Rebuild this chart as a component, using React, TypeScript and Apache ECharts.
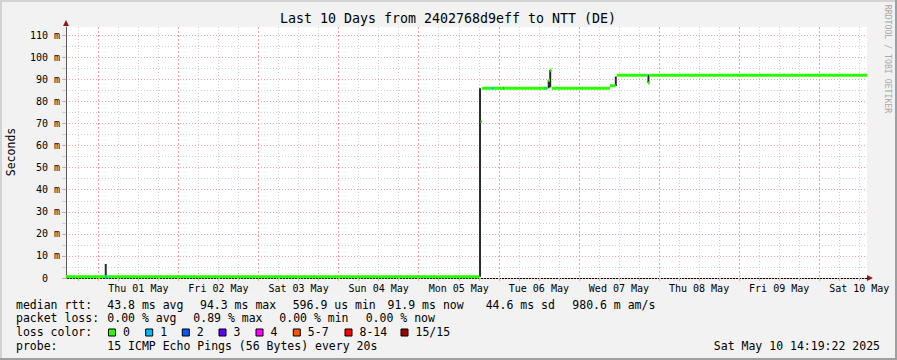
import React, { useEffect, useRef } from 'react';
import * as echarts from 'echarts';

// x values are hours since Wed 30 Apr 2025 00:00
const X_MIN = 14.32;
const X_MAX = 254.32;
const Y_MAX = 113.76;

const dayNames = ['Thu 01 May', 'Fri 02 May', 'Sat 03 May', 'Sun 04 May', 'Mon 05 May', 'Tue 06 May', 'Wed 07 May', 'Thu 08 May', 'Fri 09 May', 'Sat 10 May'];
const dayLabelHours = [36, 60, 84, 108, 132, 156, 180, 204, 228, 252];
const dayLineHours = [24, 48, 72, 96, 120, 144, 168, 192, 216, 240];
const quarterDayHours = [18, 30, 36, 42, 54, 60, 66, 78, 84, 90, 102, 108, 114, 126, 132, 138, 150, 156, 162, 174, 180, 186, 198, 204, 210, 222, 228, 234, 246, 252];
const yMajorTicks = [0, 10, 20, 30, 40, 50, 60, 70, 80, 90, 100, 110];
const yMinorTicks = [5, 15, 25, 35, 45, 55, 65, 75, 85, 95, 105];

// median rtt steps with 0 loss: [start hour, end hour, ms]
const medianLoss0 = [
  [14.32, 138.22, 0.6],
  [138.52, 138.97, 70.8],
  [138.97, 158.77, 86.0],
  [158.77, 159.31, 89.6],
  [159.31, 159.82, 94.2],
  [159.82, 177.31, 86.0],
  [177.31, 179.02, 87.1],
  [179.32, 188.71, 91.9],
  [188.71, 189.13, 88.4],
  [189.13, 254.32, 91.9],
];
// median rtt steps with 1 lost ping
const medianLoss1 = [
  [26.02, 26.62, 0.6],
  [142.0, 142.3, 86.0],
  [145.2, 145.5, 86.0],
  [157.7, 158.0, 86.0],
];
// smoke (ping spread): [hour, low ms, high ms]
const smoke = [
  [26.23, 0.6, 6.3],
  [138.37, 0.6, 86.0],
  [158.95, 86.0, 89.6],
  [159.4, 86.5, 94.3],
  [179.05, 87.0, 91.3],
  [188.83, 88.4, 92.2],
];

const statsRtt = ['median rtt:', '43.8 ms avg', '94.3 ms max', '596.9 us min', '91.9 ms now', '44.6 ms sd', '980.6 m am/s'];
const statsLoss = ['packet loss:', '0.00 % avg', '0.89 % max', '0.00 % min', '0.00 % now'];
const lossLabels = ['0', '1', '2', '3', '4', '5-7', '8-14', '15/15'];
const lossColors = ['#26ff00', '#00b8ff', '#0059ff', '#5e00ff', '#ff00ff', '#ff5500', '#ff0000', '#a10000'];
const probeText = ['probe:', '15 ICMP Echo Pings (56 Bytes) every 20s'];
const dateText = 'Sat May 10 14:19:22 2025';
const titleText = 'Last 10 Days from 2402768d9eff to NTT (DE)';

const MONO = '"DejaVu Sans Mono", monospace';

function stepData(list: number[][]) {
  const out: any[] = [];
  for (const [a, b, v] of list) {
    out.push([a, v], [b, v], [b, null]);
  }
  return out;
}
function smokeData(list: number[][]) {
  const out: any[] = [];
  for (const [h, lo, hi] of list) {
    out.push([h, lo], [h, hi], [h, null]);
  }
  return out;
}

function txt(text: string, x: number, y: number, size: number, align = 'left', fill = '#000', rotation = 0): any {
  return {
    type: 'text',
    x,
    y,
    rotation,
    silent: true,
    style: {
      text,
      fill,
      font: `${size}px ${MONO}`,
      textAlign: align,
      textVerticalAlign: 'middle',
    },
  };
}

export default function App() {
  const ref = useRef<HTMLDivElement>(null);
  useEffect(() => {
    if (!ref.current) return;
    const chart = echarts.init(ref.current, null, { renderer: 'svg' });

    const rttX = [16, 107.3, 200, 292.7, 387.5, 485.7, 572.3];
    const lossX = [16, 107.3, 193.3, 279.3, 365.7];
    const boxX = [108.5, 145.7, 182.3, 219, 256, 293.3, 345, 401];
    const graphics: any[] = [
      { type: 'rect', shape: { x: 0, y: 0, width: 897, height: 2 }, style: { fill: '#d3d3d3' }, silent: true },
      { type: 'rect', shape: { x: 0, y: 0, width: 2, height: 360 }, style: { fill: '#d3d3d3' }, silent: true },
      { type: 'rect', shape: { x: 0, y: 358, width: 897, height: 2 }, style: { fill: '#9f9f9f' }, silent: true },
      { type: 'rect', shape: { x: 895, y: 0, width: 2, height: 360 }, style: { fill: '#9f9f9f' }, silent: true },
      txt(titleText, 448, 18.5, 13.3, 'center'),
      txt('Seconds', 11, 152, 11.5, 'center', '#000', Math.PI / 2),
      txt('RRDTOOL / TOBI OETIKER', 887.5, 59, 8.2, 'center', '#a8a8a8', -Math.PI / 2),
      { type: 'polygon', shape: { points: [[63, 26], [66, 20], [69, 26]] }, style: { fill: '#8e1b1b' }, silent: true },
      { type: 'polygon', shape: { points: [[867, 275], [873, 278], [867, 281]] }, style: { fill: '#8e1b1b' }, silent: true },
    ];
    statsRtt.forEach((s, i) => graphics.push(txt(s, rttX[i], 304.5, 11.5)));
    statsLoss.forEach((s, i) => graphics.push(txt(s, lossX[i], 318.3, 11.5)));
    graphics.push(txt('loss color:', 16, 332.3, 11.5));
    lossLabels.forEach((s, i) => {
      graphics.push({
        type: 'rect',
        shape: { x: boxX[i], y: 329, width: 7, height: 7 },
        style: { fill: lossColors[i], stroke: '#000', lineWidth: 1 },
        silent: true,
      });
      graphics.push(txt(s, boxX[i] + 14.5, 332.3, 11.5));
    });
    graphics.push(txt(probeText[0], 16, 346.3, 11.5));
    graphics.push(txt(probeText[1], 107.3, 346.3, 11.5));
    graphics.push(txt(dateText, 880, 346.3, 11.5, 'right'));

    const minorGrid = { color: '#cfcfcf', type: [1, 2] as any, width: 1 };
    const majorGrid = { color: '#f2a0a0', type: [1, 2] as any, width: 1 };

    chart.setOption({
      animation: false,
      backgroundColor: '#f2f2f2',
      grid: { left: 66, top: 27, width: 801, height: 251, show: true, backgroundColor: '#ffffff', borderWidth: 0 },
      graphic: graphics,
      xAxis: [
        {
          type: 'value',
          min: X_MIN,
          max: X_MAX,
          axisLine: { show: true, lineStyle: { color: '#000', width: 1 } },
          axisTick: { show: true, customValues: quarterDayHours, length: 3, lineStyle: { color: '#bbbbbb' } },
          splitLine: { show: true, lineStyle: minorGrid },
          axisLabel: {
            customValues: dayLabelHours,
            formatter: (v: number) => dayNames[Math.round((v - 36) / 24)] || '',
            fontFamily: MONO,
            fontSize: 10,
            color: '#000',
            margin: 5,
          },
          z: 1,
        },
        {
          type: 'value',
          min: X_MIN,
          max: X_MAX,
          axisLine: { show: false },
          axisTick: { show: true, customValues: dayLineHours, length: 3, lineStyle: { color: '#f2a0a0' } },
          splitLine: { show: true, lineStyle: { color: '#f2a0a0', type: [2, 2] as any, width: 1 } },
          axisLabel: { show: false },
          position: 'bottom',
          z: 2,
        },
      ],
      yAxis: [
        {
          type: 'value',
          min: 0,
          max: Y_MAX,
          axisLine: { show: true, lineStyle: { color: '#5a5a5a', width: 1 } },
          axisTick: { show: true, customValues: yMajorTicks, length: 4, lineStyle: { color: '#f2a0a0' } },
          splitLine: { show: true, lineStyle: majorGrid },
          axisLabel: {
            customValues: yMajorTicks,
            formatter: (v: number) => (v === 0 ? '0\u00a0\u00a0' : `${v} m`),
            fontFamily: MONO,
            fontSize: 10,
            color: '#000',
            margin: 6,
          },
          z: 2,
        },
        {
          type: 'value',
          min: 0,
          max: Y_MAX,
          axisLine: { show: false },
          axisTick: { show: true, customValues: yMinorTicks, length: 4, lineStyle: { color: '#cfcfcf' } },
          splitLine: { show: true, lineStyle: minorGrid },
          axisLabel: { show: false },
          position: 'left',
          z: 1,
        },
      ],
      series: [
        {
          type: 'line',
          name: 'smoke',
          data: smokeData(smoke),
          showSymbol: false,
          connectNulls: false,
          lineStyle: { color: '#2b2b2b', width: 2 },
          silent: true,
          z: 3,
        },
        {
          type: 'line',
          name: 'median loss 0',
          data: stepData(medianLoss0),
          showSymbol: false,
          connectNulls: false,
          lineStyle: { color: lossColors[0], width: 3, cap: 'butt' },
          silent: true,
          z: 4,
        },
        {
          type: 'line',
          name: 'median loss 1',
          data: stepData(medianLoss1),
          showSymbol: false,
          connectNulls: false,
          lineStyle: { color: lossColors[1], width: 3, cap: 'butt' },
          silent: true,
          z: 5,
        },
      ],
    });
    return () => chart.dispose();
  }, []);
  return <div ref={ref} style={{ position: 'absolute', left: 0, top: 0, width: 897, height: 360 }} />;
}
